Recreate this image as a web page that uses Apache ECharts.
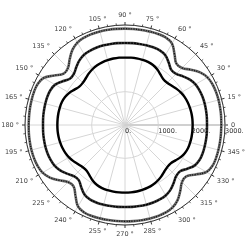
<!DOCTYPE html>
<html><head><meta charset="utf-8">
<script src="https://cdn.jsdelivr.net/npm/echarts@6/dist/echarts.min.js"></script>
<style>html,body{margin:0;padding:0;background:#fff}#c{width:250px;height:250px}</style>
</head><body><div id="c"></div>
<script>
// angles in degrees (0..360 step 5)
const angles = [0,5,10,15,20,25,30,35,40,45,50,55,60,65,70,75,80,85,90,95,100,105,110,115,120,125,130,135,140,145,150,155,160,165,170,175,180,185,190,195,200,205,210,215,220,225,230,235,240,245,250,255,260,265,270,275,280,285,290,295,300,305,310,315,320,325,330,335,340,345,350,355,360];
const outerR = [2890,2895,2900,2905,2905,2895,2855,2750,2580,2420,2400,2590,2820,2895,2905,2900,2895,2890,2890,2895,2900,2905,2905,2895,2855,2750,2580,2420,2400,2590,2820,2895,2905,2900,2895,2890,2890,2895,2900,2905,2905,2895,2855,2750,2580,2420,2400,2590,2820,2895,2905,2900,2895,2890,2890,2895,2900,2905,2905,2895,2855,2750,2580,2420,2400,2590,2820,2895,2905,2900,2895,2890,2890];
const middleR = [2460,2465,2470,2475,2475,2465,2440,2375,2270,2170,2160,2285,2420,2470,2480,2475,2470,2465,2460,2465,2470,2475,2475,2465,2440,2375,2270,2170,2160,2285,2420,2470,2480,2475,2470,2465,2460,2465,2470,2475,2475,2465,2440,2375,2270,2170,2160,2285,2420,2470,2480,2475,2470,2465,2460,2465,2470,2475,2475,2465,2440,2375,2270,2170,2160,2285,2420,2470,2480,2475,2470,2465,2460];
const innerR = [2030,2030,2025,2015,2000,1975,1940,1890,1830,1790,1790,1850,1930,1985,2015,2025,2030,2030,2030,2030,2025,2015,2000,1975,1940,1890,1830,1790,1790,1850,1930,1985,2015,2025,2030,2030,2030,2030,2025,2015,2000,1975,1940,1890,1830,1790,1790,1850,1930,1985,2015,2025,2030,2030,2030,2030,2025,2015,2000,1975,1940,1890,1830,1790,1790,1850,1930,1985,2015,2025,2030,2030,2030];
const radiusTicks = [0,1000,2000,3000];

const pairs = r => r.map((v,i)=>[v, angles[i]]);
const font = 'DejaVu Sans';
const chart = echarts.init(document.getElementById('c'));
chart.setOption({
  animation:false,
  polar:{center:['50%','50%'], radius:100},
  angleAxis:{type:'value', min:0, max:360, interval:15, startAngle:0, clockwise:false,
    axisLine:{lineStyle:{color:'#333', width:1}},
    axisTick:{show:true, length:3, inside:false, lineStyle:{color:'#333'}},
    minorTick:{show:true, splitNumber:3, length:2, lineStyle:{color:'#555'}},
    splitLine:{show:true, lineStyle:{color:'#d6d6d6', width:1}},
    axisLabel:{fontFamily:font, fontSize:6.5, color:'#444', margin:6,
      formatter:v=> v===360?'':(v===0?'0':v+' °')}
  },
  radiusAxis:{type:'value', min:0, max:3000, interval:1000,
    axisLine:{show:true, lineStyle:{color:'#d0d0d0', width:2}},
    axisTick:{show:false},
    splitLine:{show:true, lineStyle:{color:'#d6d6d6', width:1}},
    axisLabel:{fontFamily:font, fontSize:6.5, color:'#333', align:'left', verticalAlign:'top', margin:-3,
      formatter:v=> radiusTicks.includes(v)? v+'.' : ''}
  },
  series:[
    {type:'line', coordinateSystem:'polar', data:pairs(outerR), smooth:0.4, symbol:'none',
     lineStyle:{color:'#6a6a6a', width:2.6}},
    {type:'line', coordinateSystem:'polar', data:pairs(outerR), smooth:0.4, symbol:'none',
     lineStyle:{color:'#111', width:1.4, type:[1,1.5]}},
    {type:'line', coordinateSystem:'polar', data:pairs(middleR), smooth:0.4, symbol:'none',
     lineStyle:{color:'#3a3a3a', width:2.6}},
    {type:'line', coordinateSystem:'polar', data:pairs(middleR), smooth:0.4, symbol:'none',
     lineStyle:{color:'#000', width:1.4, type:[2,1]}},
    {type:'line', coordinateSystem:'polar', data:pairs(innerR), smooth:0.4, symbol:'none',
     lineStyle:{color:'#000', width:2.4}}
  ]
});
</script></body></html>
